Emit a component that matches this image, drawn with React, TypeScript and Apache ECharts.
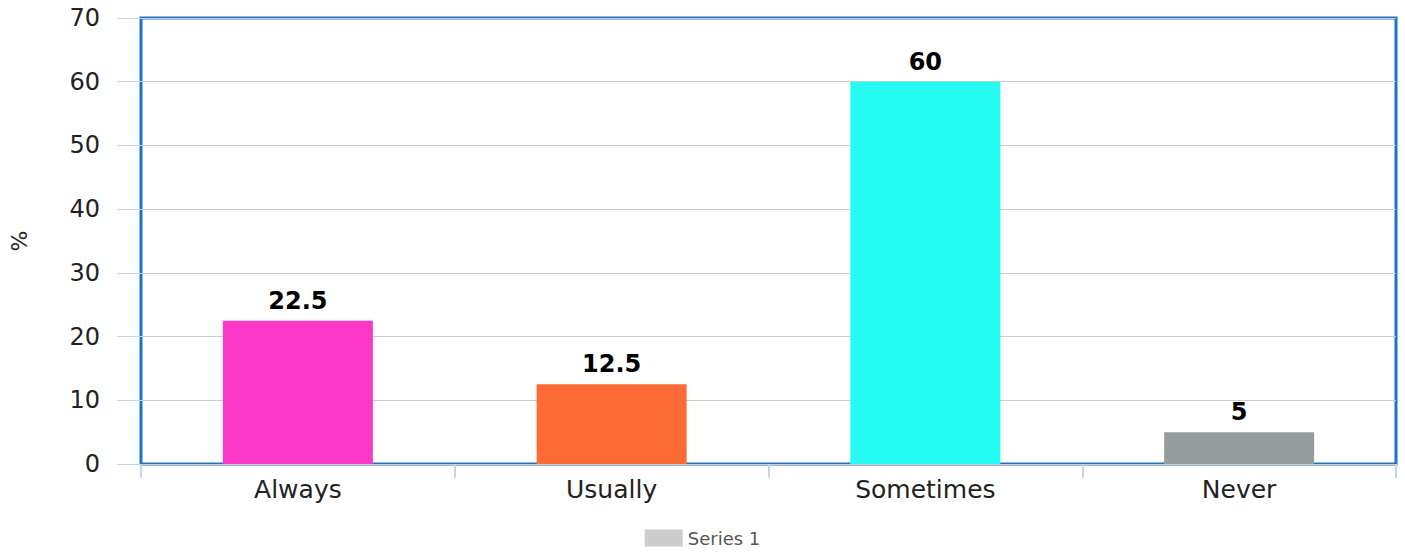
import React, { useEffect, useRef } from "react";
import * as echarts from "echarts";

const categories = ["Always", "Usually", "Sometimes", "Never"];
const values = [22.5, 12.5, 60, 5];
const barColors = ["#fb38c9", "#fc6a36", "#26fbf3", "#969c9c"];
const seriesName = "Series 1";
const yTicks = { min: 0, max: 70, interval: 10 };

export default function App() {
  const ref = useRef<HTMLDivElement>(null);
  useEffect(() => {
    if (!ref.current) return;
    const chart = echarts.init(ref.current, null, { renderer: "svg" });
    chart.setOption({
      animation: false,
      backgroundColor: "#ffffff",
      textStyle: { fontFamily: "DejaVu Sans" },
      grid: {
        left: 141,
        right: 9,
        top: 18,
        bottom: 88,
        show: true,
        borderColor: "#1f72c4",
        borderWidth: 3,
        containLabel: false,
        outerBoundsMode: "none",
      },
      legend: {
        show: true,
        bottom: 0,
        left: "center",
        itemWidth: 38,
        itemHeight: 17,
        itemGap: 12,
        icon: "rect",
        textStyle: { color: "#555", fontSize: 18, fontFamily: "DejaVu Sans" },
        data: [{ name: seriesName, itemStyle: { color: "#cccccc" } }],
      },
      xAxis: {
        type: "category",
        data: categories,
        axisLine: { show: false },
        axisTick: {
          show: true,
          length: 14,
          alignWithLabel: false,
          lineStyle: { color: "#c6d6ea", width: 2 },
        },
        axisLabel: { color: "#222", fontSize: 25, margin: 13 },
        splitLine: { show: false },
      },
      yAxis: {
        type: "value",
        min: yTicks.min,
        max: yTicks.max,
        interval: yTicks.interval,
        name: "%",
        nameLocation: "middle",
        nameGap: 111,
        nameRotate: 90,
        nameTextStyle: { color: "#222", fontSize: 22 },
        axisLine: { show: false },
        axisTick: {
          show: true,
          length: 24,
          lineStyle: { color: "#c6d6ea", width: 1 },
        },
        axisLabel: { color: "#222", fontSize: 24, margin: 41 },
        splitLine: { show: true, lineStyle: { color: "#cccccc", width: 1 } },
      },
      series: [
        {
          name: seriesName,
          type: "bar",
          barWidth: 150,
          itemStyle: { color: "#cccccc" },
          data: values.map((v, i) => ({ value: v, itemStyle: { color: barColors[i] } })),
          label: {
            show: true,
            position: "top",
            distance: 8,
            color: "#000",
            fontWeight: "bold",
            fontSize: 24,
            fontFamily: "DejaVu Sans",
          },
        },
      ],
    });
    return () => chart.dispose();
  }, []);
  return (
    <div
      ref={ref}
      style={{ position: "fixed", left: 0, top: 0, width: 1405, height: 552 }}
    />
  );
}
